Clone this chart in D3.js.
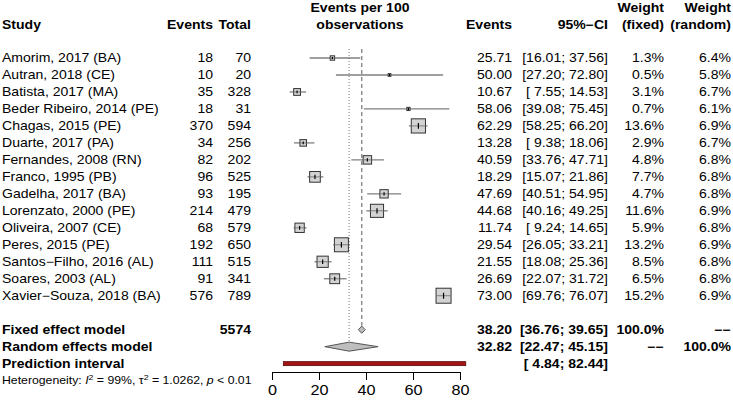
<!DOCTYPE html>
<html>
<head>
<meta charset="utf-8">
<script src="https://cdn.jsdelivr.net/npm/d3@7"></script>
<style>
  body { margin: 0; background: #fff; }
  svg { font-family: "Liberation Sans", Arial, sans-serif; display: block; }
</style>
</head>
<body>
<svg></svg>
<script>
let width = 733,
    height = 405,
    sx = 1.17,          // the source was stretched sideways a little
    rowTop = 58,
    rowStep = 16.98

// study data
const studies = ["Amorim, 2017 (BA)", "Autran, 2018 (CE)", "Batista, 2017 (MA)", "Beder Ribeiro, 2014 (PE)",
    "Chagas, 2015 (PE)", "Duarte, 2017 (PA)", "Fernandes, 2008 (RN)", "Franco, 1995 (PB)", "Gadelha, 2017 (BA)",
    "Lorenzato, 2000 (PE)", "Oliveira, 2007 (CE)", "Peres, 2015 (PE)", "Santos\u2212Filho, 2016 (AL)",
    "Soares, 2003 (AL)", "Xavier\u2212Souza, 2018 (BA)"]
const events = [18, 10, 35, 18, 370, 34, 82, 96, 93, 214, 68, 192, 111, 91, 576]
const totals = [70, 20, 328, 31, 594, 256, 202, 525, 195, 479, 579, 650, 515, 341, 789]
const est = [25.71, 50.00, 10.67, 58.06, 62.29, 13.28, 40.59, 18.29, 47.69, 44.68, 11.74, 29.54, 21.55, 26.69, 73.00]
const ciLow = [16.01, 27.20, 7.55, 39.08, 58.25, 9.38, 33.76, 15.07, 40.51, 40.16, 9.24, 26.05, 18.08, 22.07, 69.76]
const ciHigh = [37.56, 72.80, 14.53, 75.45, 66.20, 18.06, 47.71, 21.86, 54.95, 49.25, 14.65, 33.21, 25.36, 31.72, 76.07]
const wFixed = [1.3, 0.5, 3.1, 0.7, 13.6, 2.9, 4.8, 7.7, 4.7, 11.6, 5.9, 13.2, 8.5, 6.5, 15.2]
const wRandom = [6.4, 5.8, 6.7, 6.1, 6.9, 6.7, 6.8, 6.8, 6.8, 6.9, 6.8, 6.9, 6.8, 6.8, 6.9]

// pooled results
const fixedModel = [38.20, 36.76, 39.65]
const randomModel = [32.82, 22.47, 45.15]
const predInterval = [4.84, 82.44]
const totalN = 5574
const xTicks = [0, 20, 40, 60, 80]

const x = d3.scaleLinear().domain([0, 80]).range([272, 460])
const rowY = i => rowTop + i * rowStep

const fmt2 = d3.format(".2f")
const fmtCI = (lo, hi) => {
    const a = lo < 10 ? " " + fmt2(lo) : fmt2(lo)
    const b = hi < 10 ? " " + fmt2(hi) : fmt2(hi)
    return "[" + a + "; " + b + "]"
}

let svg = d3.select("svg")
            .attr("width", width)
            .attr("height", height)

const txt = (px, py, s, anchor = "start", bold = false, size = 12) => {
    return svg.append("text")
        .attr("transform", `translate(${px},${py}) scale(${sx},1)`)
        .attr("text-anchor", anchor)
        .attr("font-weight", bold ? "bold" : "normal")
        .attr("font-size", size)
        .attr("fill", "#000")
        .attr("xml:space", "preserve")
        .style("white-space", "pre")
        .text(s)
}

// column positions (right edges)
const col = {study: 2, ev: 213, tot: 251, est: 512, ci: 608, wf: 664, wr: 731}

// headers
txt(col.study, 29, "Study", "start", true)
txt(col.ev, 29, "Events", "end", true)
txt(col.tot, 29, "Total", "end", true)
txt(360, 12, "Events per 100", "middle", true)
txt(360, 29, "observations", "middle", true)
txt(col.est, 29, "Events", "end", true)
txt(col.ci, 29, "95%\u2212CI", "end", true)
txt(col.wf, 12, "Weight", "end", true)
txt(col.wf, 29, "(fixed)", "end", true)
txt(col.wr, 12, "Weight", "end", true)
txt(col.wr, 29, "(random)", "end", true)

// reference lines
svg.append("line")
    .attr("x1", x(randomModel[0])).attr("x2", x(randomModel[0]))
    .attr("y1", 49).attr("y2", rowY(17) - 4)
    .attr("stroke", "#777").attr("stroke-width", 1)
    .attr("stroke-dasharray", "1,2")

svg.append("line")
    .attr("x1", x(fixedModel[0])).attr("x2", x(fixedModel[0]))
    .attr("y1", 49).attr("y2", rowY(16) - 4)
    .attr("stroke", "#808080").attr("stroke-width", 1.3)
    .attr("stroke-dasharray", "4,3")

// study rows
studies.forEach((s, i) => {
    const y = rowY(i)
    const ty = y + 4.3
    txt(col.study, ty, s)
    txt(col.ev, ty, events[i], "end")
    txt(col.tot, ty, totals[i], "end")
    txt(col.est, ty, fmt2(est[i]), "end")
    txt(col.ci, ty, fmtCI(ciLow[i], ciHigh[i]), "end")
    txt(col.wf, ty, wFixed[i].toFixed(1) + "%", "end")
    txt(col.wr, ty, wRandom[i].toFixed(1) + "%", "end")

    const side = 3.85 * Math.sqrt(wFixed[i])
    svg.append("line")
        .attr("x1", x(ciLow[i])).attr("x2", x(ciHigh[i]))
        .attr("y1", y).attr("y2", y)
        .attr("stroke", "#7f7f7f").attr("stroke-width", 1.3)
    svg.append("rect")
        .attr("x", x(est[i]) - side / 2).attr("y", y - side / 2)
        .attr("width", side).attr("height", side)
        .attr("fill", "#d3d3d3").attr("stroke", "#333").attr("stroke-width", 1)
    svg.append("line")
        .attr("x1", x(est[i]) - side / 2).attr("x2", x(est[i]) + side / 2)
        .attr("y1", y).attr("y2", y)
        .attr("stroke", "#7f7f7f").attr("stroke-width", 1)
    svg.append("line")
        .attr("x1", x(est[i])).attr("x2", x(est[i]))
        .attr("y1", y - Math.max(side * 0.2, 1)).attr("y2", y + Math.max(side * 0.2, 1))
        .attr("stroke", "#000").attr("stroke-width", 1.2)
})

// pooled rows
const yF = rowY(16), yR = rowY(17), yP = rowY(18)

txt(col.study, yF + 4.3, "Fixed effect model", "start", true)
txt(col.tot, yF + 4.3, totalN, "end", true)
txt(col.est, yF + 4.3, fmt2(fixedModel[0]), "end", true)
txt(col.ci, yF + 4.3, fmtCI(fixedModel[1], fixedModel[2]), "end", true)
txt(col.wf, yF + 4.3, "100.0%", "end", true)
txt(col.wr, yF + 4.3, "\u2212\u2212", "end", true)

txt(col.study, yR + 4.3, "Random effects model", "start", true)
txt(col.est, yR + 4.3, fmt2(randomModel[0]), "end", true)
txt(col.ci, yR + 4.3, fmtCI(randomModel[1], randomModel[2]), "end", true)
txt(col.wf, yR + 4.3, "\u2212\u2212", "end", true)
txt(col.wr, yR + 4.3, "100.0%", "end", true)

txt(col.study, yP + 4.3, "Prediction interval", "start", true)
txt(col.ci, yP + 4.3, fmtCI(predInterval[0], predInterval[1]), "end", true)

const diamond = (m, y, h) => {
    const pts = [[x(m[1]), y], [x(m[0]), y - h], [x(m[2]), y], [x(m[0]), y + h]]
    svg.append("polygon")
        .attr("points", pts.map(p => p.join(",")).join(" "))
        .attr("fill", "#bebebe").attr("stroke", "#555").attr("stroke-width", 1)
}
diamond(fixedModel, yF, 3.6)
diamond(randomModel, yR, 4.5)

svg.append("rect")
    .attr("x", x(predInterval[0])).attr("y", yP - 2)
    .attr("width", x(predInterval[1]) - x(predInterval[0])).attr("height", 4)
    .attr("fill", "#a31515").attr("stroke", "#5a0a0a").attr("stroke-width", 0.8)

// heterogeneity line
const het = svg.append("text")
    .attr("transform", `translate(2,384) scale(${sx},1)`)
    .attr("font-size", 10.5)
het.append("tspan").text("Heterogeneity: ")
het.append("tspan").attr("font-style", "italic").text("I")
het.append("tspan").attr("dy", -4).attr("font-size", 7.5).text("2")
het.append("tspan").attr("dy", 4).text(" = 99%, \u03c4")
het.append("tspan").attr("dy", -4).attr("font-size", 7.5).text("2")
het.append("tspan").attr("dy", 4).text(" = 1.0262, ")
het.append("tspan").attr("font-style", "italic").text("p")
het.append("tspan").text(" < 0.01")

// axis
const axis = svg.append("g")
    .attr("transform", "translate(0,372)")
    .call(d3.axisBottom(x).tickValues(xTicks).tickSize(8).tickSizeOuter(0).tickPadding(5))

axis.select(".domain").attr("stroke", "#000").attr("stroke-width", 1)
axis.selectAll(".tick line").attr("stroke", "#000").attr("stroke-width", 1)
axis.selectAll(".tick text")
    .attr("font-family", "Liberation Sans, Arial, sans-serif")
    .attr("font-size", 14.5)
    .attr("fill", "#000")
    .attr("transform", "scale(1.12,1)")
</script>
</body>
</html>
